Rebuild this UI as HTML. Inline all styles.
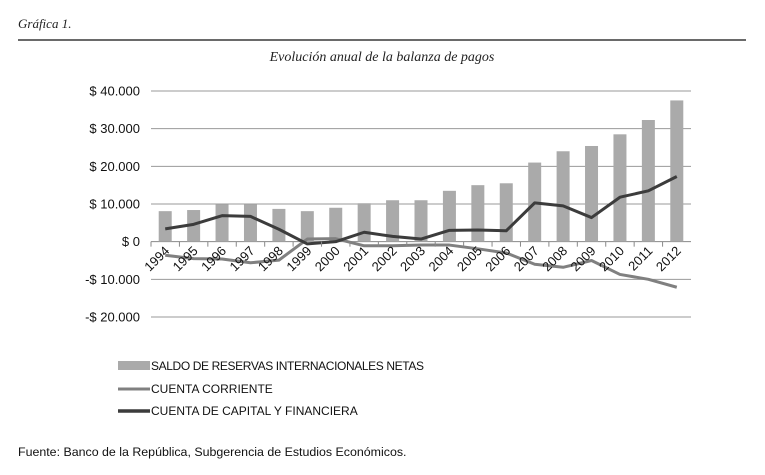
<!DOCTYPE html>
<html><head><meta charset="utf-8"><style>
body{margin:0;background:#fff;width:765px;height:475px;overflow:hidden}
svg{display:block}
</style></head><body>
<svg width="765" height="475" xmlns="http://www.w3.org/2000/svg">
<text x="18" y="28" font-family="Liberation Serif, serif" font-style="italic" font-size="13" fill="#222">Gráfica 1.</text>
<line x1="18" y1="40" x2="746" y2="40" stroke="#111" stroke-width="1.3"/>
<text x="382" y="61" text-anchor="middle" font-family="Liberation Serif, serif" font-style="italic" font-size="14" fill="#222">Evolución anual de la balanza de pagos</text>
<g id="grid"></g>
<g id="yticks"></g>
<g id="bars"></g>
<g id="lines"></g>
<g id="xticks"></g>
<g font-family="Liberation Sans, sans-serif" font-size="12" fill="#111">
<rect x="118" y="361" width="32" height="9" fill="#aaa"/>
<text x="151" y="370" textLength="273">SALDO DE RESERVAS INTERNACIONALES NETAS</text>
<line x1="118" y1="389" x2="150" y2="389" stroke="#808080" stroke-width="3"/>
<text x="151" y="393">CUENTA CORRIENTE</text>
<line x1="118" y1="411" x2="150" y2="411" stroke="#3c3c3c" stroke-width="3.5"/>
<text x="151" y="415">CUENTA DE CAPITAL Y FINANCIERA</text>
</g>
<text x="18" y="456" font-family="Liberation Sans, sans-serif" font-size="12.4" fill="#111">Fuente: Banco de la República, Subgerencia de Estudios Económicos.</text>
</svg>
<script>
const years=["1994","1995","1996","1997","1998","1999","2000","2001","2002","2003","2004","2005","2006","2007","2008","2009","2010","2011","2012"];
const reserves=[8100,8400,9900,9900,8700,8100,9000,10200,11000,11000,13500,15000,15500,21000,24000,25400,28500,32300,37500];
const cuentaCorriente=[-3600,-4500,-4600,-5600,-4900,700,800,-1100,-1100,-900,-900,-1900,-3000,-6000,-6800,-5000,-8700,-10000,-12100];
const capitalFinanciera=[3400,4600,6900,6700,3300,-600,0,2500,1400,700,3000,3100,2900,10300,9500,6400,11800,13500,17300];
const yTicks=[40000,30000,20000,10000,0,-10000,-20000];
const yTickLabels=["$ 40.000","$ 30.000","$ 20.000","$ 10.000","$ 0","-$ 10.000","-$ 20.000"];
const NS="http://www.w3.org/2000/svg";
const L=151,R=691,T=91,B=317,ymax=40000,ymin=-20000;
const bw=(R-L)/years.length;
function y(v){return T+(ymax-v)/(ymax-ymin)*(B-T);}
function xc(i){return L+bw*(i+0.5);}
function mk(t,a,p){const e=document.createElementNS(NS,t);for(const k in a)e.setAttribute(k,a[k]);p.appendChild(e);return e;}
const grid=document.getElementById('grid'),yt=document.getElementById('yticks');
yTicks.forEach((v,i)=>{
 const g=mk('line',{x1:L,x2:R,y1:y(v),y2:y(v),stroke:v===0?'#888':'#999','stroke-width':1},grid);
 
 
 const t=mk('text',{x:140,y:y(v)+4.5,'text-anchor':'end','font-family':'Liberation Sans, sans-serif','font-size':13,fill:'#111'},yt);
 t.textContent=yTickLabels[i];
 
 
});
const bars=document.getElementById('bars');
reserves.forEach((v,i)=>{
 const r=mk('rect',{x:xc(i)-6.5,width:13,y:y(v),height:y(0)-y(v),fill:'#aaa'},bars);
 
 
});
const lines=document.getElementById('lines');
function line(arr,col,w,name){
 const p=mk('polyline',{points:arr.map((v,i)=>xc(i)+','+y(v)).join(' '),fill:'none',stroke:col,'stroke-width':w,'stroke-linejoin':'round'},lines);
 
 
}
line(cuentaCorriente,'#808080',3,'line-cuenta-corriente');
line(capitalFinanciera,'#3c3c3c',3,'line-capital-financiera');
const xt=document.getElementById('xticks');
years.forEach((yr,i)=>{
 const tk=mk('line',{x1:L+bw*i,x2:L+bw*i,y1:y(0),y2:y(0)+5,stroke:'#888'},xt);
 
 
 const t=mk('text',{x:xc(i)+5,y:y(0)+10,'text-anchor':'end','font-family':'Liberation Sans, sans-serif','font-size':13,fill:'#111',transform:'rotate(-45 '+(xc(i)+5)+' '+(y(0)+10)+')'},xt);
 t.textContent=yr;
 
 
});
</script>
</body></html>
